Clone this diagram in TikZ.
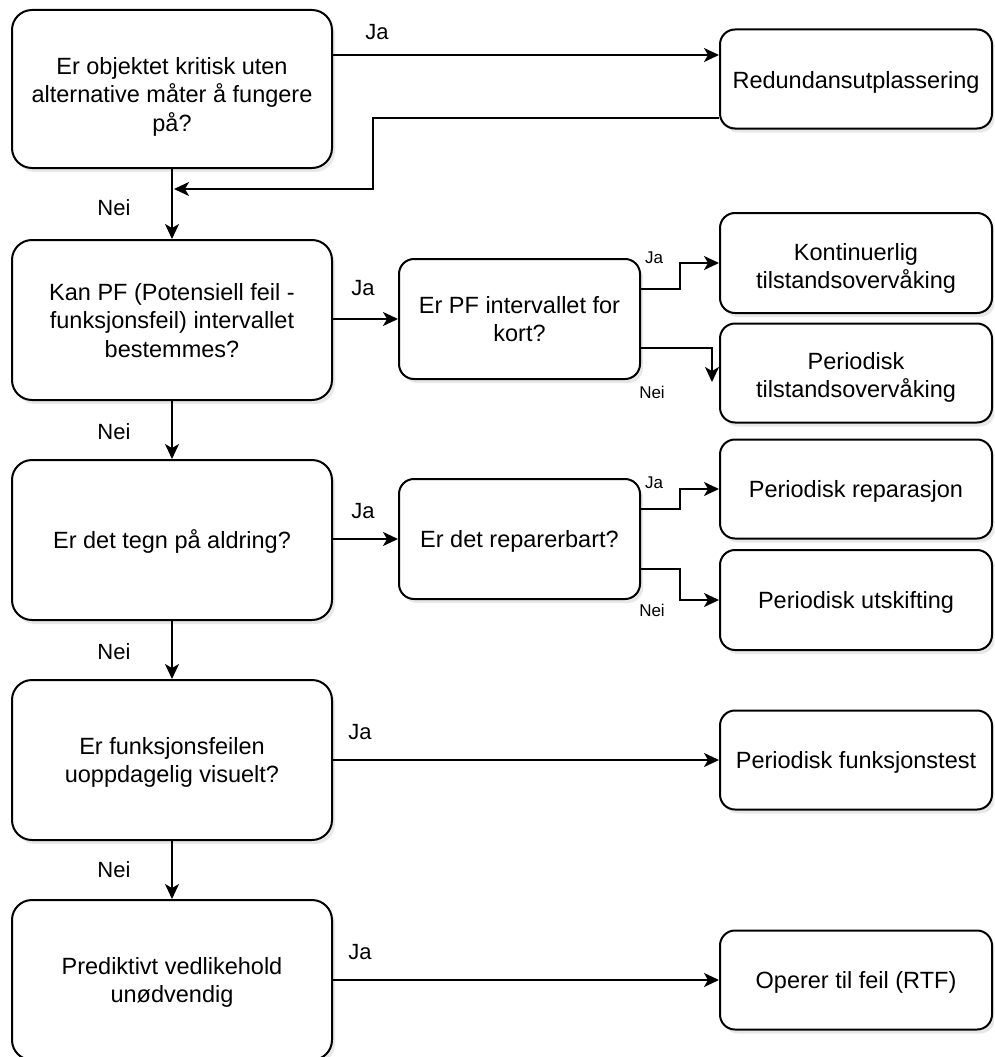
\documentclass[tikz,border=0pt]{standalone}
\usepackage{fontspec}
\setmainfont{Liberation Sans}
\usetikzlibrary{arrows.meta,shadows}

% centred lines of box text, set slightly below the geometric centre
\newcommand{\boxlines}[2][3pt]{\raisebox{-#1}[\height][\depth]{\begin{tabular}{@{}c@{}}#2\end{tabular}}}

\tikzset{
  box/.style={draw, line width=2pt, fill=white, rounded corners=#1, inner sep=2pt,
    font=\fontsize{23.5}{28.5}\selectfont,
    drop shadow={opacity=0.18, shadow xshift=3pt, shadow yshift=-4pt}},
  box/.default=20pt,
  question/.style={box=20pt, minimum width=320pt, minimum height=160pt},
  action/.style={box=15pt, minimum width=272pt, minimum height=99pt},
  subq/.style={box=15pt, minimum width=241pt, minimum height=120pt},
  arr/.style={line width=2pt, -{Stealth[length=15pt, width=14pt, inset=4pt]}},
  lbl/.style={font=\fontsize{22}{26}\selectfont, inner sep=0pt},
  slbl/.style={font=\fontsize{17}{20}\selectfont, inner sep=0pt},
}

\begin{document}
\begin{tikzpicture}[x=1pt, y=-1pt]
  \useasboundingbox (0,0) rectangle (994,1057);
  \clip (0,0) rectangle (994,1057);

  % left column: questions
  \node[question, minimum height=158pt] (q1) at (172,89)
    {\boxlines[8pt]{Er objektet kritisk uten\\alternative måter å fungere\\på?}};
  \node[question] (q2) at (172,320)
    {\boxlines{Kan PF (Potensiell feil -\\funksjonsfeil) intervallet\\bestemmes?}};
  \node[question] (q3) at (172,540) {\boxlines{Er det tegn på aldring?}};
  \node[question] (q4) at (172,760) {\boxlines{Er funksjonsfeilen\\uoppdagelig visuelt?}};
  \node[question] (q5) at (172,980) {\boxlines{Prediktivt vedlikehold\\unødvendig}};

  % middle column: follow-up questions
  \node[subq] (pf)  at (519.5,319) {\boxlines{Er PF intervallet for\\kort?}};
  \node[subq] (rep) at (519.5,539) {\boxlines{Er det reparerbart?}};

  % right column: strategies
  \node[action] (red)  at (856,79)  {\boxlines[4pt]{Redundansutplassering}};
  \node[action, minimum height=100pt] (kont) at (856,263) {\boxlines[6pt]{Kontinuerlig\\tilstandsovervåking}};
  \node[action] (ptil) at (856,373) {\boxlines[5pt]{Periodisk\\tilstandsovervåking}};
  \node[action] (prep) at (856,489) {\boxlines{Periodisk reparasjon}};
  \node[action, minimum height=100pt] (utsk) at (856,600) {\boxlines{Periodisk utskifting}};
  \node[action] (test) at (856,760) {\boxlines{Periodisk funksjonstest}};
  \node[action] (rtf)  at (856,980) {\boxlines{Operer til feil (RTF)}};

  % helper coordinates for bends
  \coordinate (yJa1) at (0,55);
  \coordinate (yBack) at (0,118);
  \coordinate (xBack) at (373,0);
  \coordinate (yJoin) at (0,189);
  \coordinate (xStep) at (680,0);
  \coordinate (xDrop) at (712,0);
  \coordinate (pfEnd) at (712,382);
  \coordinate (pfJa)  at ([yshift=30pt]pf.east);
  \coordinate (pfNei) at ([yshift=-29pt]pf.east);
  \coordinate (repJa)  at ([yshift=30pt]rep.east);
  \coordinate (repNei) at ([yshift=-30pt]rep.east);

  % main chain
  \draw[arr] (q1.east |- yJa1) -- (red.west |- yJa1);
  \coordinate (join) at (q1.south |- yJoin);
  \draw[arr] (red.west |- yBack) -- (xBack |- yBack) -- (xBack |- yJoin) -- ([xshift=2pt]join);
  \draw[arr] (q1.south) -- (q2.north);
  \draw[arr] (q2.south) -- (q3.north);
  \draw[arr] (q3.south) -- (q4.north);
  \draw[arr] (q4.south) -- (q5.north);

  \draw[arr] (q2.east |- pf.west) -- (pf.west);
  \draw[arr] (q3.east |- rep.west) -- (rep.west);
  \draw[arr] (q4.east) -- (test.west);
  \draw[arr] (q5.east) -- (rtf.west);

  % branches from the follow-up questions
  \draw[arr] (pfJa) -- (xStep |- pfJa) -- (xStep |- kont.west) -- (kont.west);
  \draw[arr] (pfNei) -- (xDrop |- pfNei) -- (pfEnd);
  \draw[arr] (repJa) -- (xStep |- repJa) -- (xStep |- prep.west) -- (prep.west);
  \draw[arr] (repNei) -- (xStep |- repNei) -- (xStep |- utsk.west) -- (utsk.west);

  % edge labels
  \node[lbl] (l1) at (377,32) {Ja};
  \node[lbl] (l2) at (363,288) {Ja};
  \node[lbl] (l3) at (363,511) {Ja};
  \node[lbl] (l4) at (360,732) {Ja};
  \node[lbl] (l5) at (360,952) {Ja};
  \node[lbl] (n1) at (114,208) {Nei};
  \node[lbl] (n2) at (114,432) {Nei};
  \node[lbl] (n3) at (114,652) {Nei};
  \node[lbl] (n4) at (114,870) {Nei};
  \node[slbl] (s1) at (654,258) {Ja};
  \node[slbl] (s2) at (652,392) {Nei};
  \node[slbl] (s3) at (654,483) {Ja};
  \node[slbl] (s4) at (652,610) {Nei};
\end{tikzpicture}
\end{document}
